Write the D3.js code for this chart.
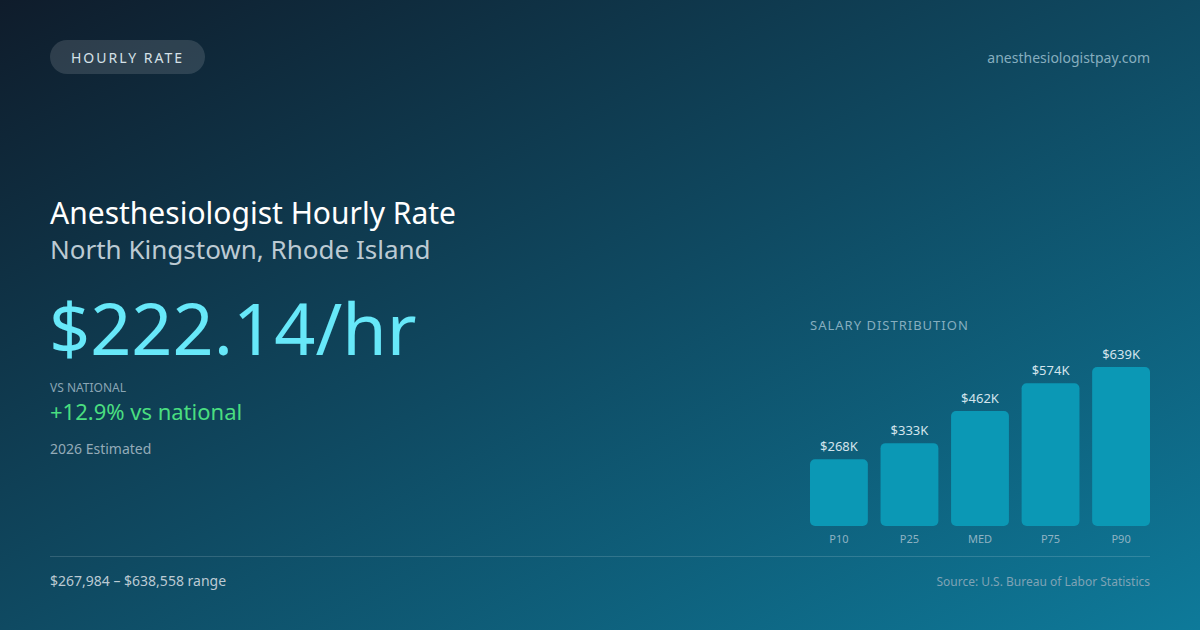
<!DOCTYPE html>
<html>
<head>
<meta charset="utf-8">
<script src="https://cdn.jsdelivr.net/npm/d3@7"></script>
<style>
html,body{margin:0;padding:0;background:#0f1c2b;}
svg{display:block;font-family:"Noto Sans",sans-serif;}
</style>
</head>
<body>
<svg id="chart" width="1200" height="630"></svg>
<script>
const categories = ["P10", "P25", "MED", "P75", "P90"];
const values = [268, 333, 462, 574, 639];
const valueLabels = ["$268K", "$333K", "$462K", "$574K", "$639K"];

const svg = d3.select("#chart");
const W = 1200, H = 630;

const defs = svg.append("defs");
const bg = defs.append("linearGradient").attr("id", "bg")
  .attr("x1", "0").attr("y1", "0").attr("x2", "1").attr("y2", "1");
bg.append("stop").attr("offset", "0").attr("stop-color", "#0f1c2b");
bg.append("stop").attr("offset", "0.5").attr("stop-color", "#0f4a62");
bg.append("stop").attr("offset", "1").attr("stop-color", "#0e7a9a");
svg.append("rect").attr("width", W).attr("height", H).attr("fill", "url(#bg)");

// pill
svg.append("rect").attr("x", 50).attr("y", 40).attr("width", 155).attr("height", 34)
  .attr("rx", 17).attr("fill", "rgba(255,255,255,0.13)");
svg.append("text").attr("x", 127.5).attr("y", 62.5).attr("text-anchor", "middle")
  .attr("font-size", 14).attr("letter-spacing", 2).attr("fill", "#d5e1e8").text("HOURLY RATE");

svg.append("text").attr("x", 1150).attr("y", 63).attr("text-anchor", "end")
  .attr("font-size", 14).attr("fill", "#86aebf").text("anesthesiologistpay.com");

// left texts
svg.append("text").attr("x", 50).attr("y", 224).attr("font-size", 30).attr("fill", "#ffffff")
  .text("Anesthesiologist Hourly Rate");
svg.append("text").attr("x", 50).attr("y", 259).attr("font-size", 26).attr("fill", "#bccad3")
  .text("North Kingstown, Rhode Island");
svg.append("text").attr("x", 49).attr("y", 355).attr("font-size", 72).attr("fill", "#67e8f9")
  .text("$222.14/hr");
svg.append("text").attr("x", 50).attr("y", 392).attr("font-size", 12).attr("fill", "#8aa5b4")
  .text("VS NATIONAL");
svg.append("text").attr("x", 50).attr("y", 420).attr("font-size", 22).attr("fill", "#4ade80")
  .text("+12.9% vs national");
svg.append("text").attr("x", 50).attr("y", 454).attr("font-size", 14).attr("fill", "#94abb8")
  .text("2026 Estimated");

// bar chart
svg.append("text").attr("x", 810).attr("y", 330).attr("font-size", 13).attr("letter-spacing", 1)
  .attr("fill", "#86aebf").text("SALARY DISTRIBUTION");

const x = d3.scaleBand().domain(categories).range([810, 1150]).paddingInner(0.18).paddingOuter(0);
const y = d3.scaleLinear().domain([0, 639]).range([526, 367]);

const g = svg.append("g");
g.selectAll("rect.bar").data(values).join("rect").attr("class", "bar")
  .attr("x", (d, i) => x(categories[i]))
  .attr("y", d => y(d))
  .attr("width", x.bandwidth())
  .attr("height", d => y(0) - y(d))
  .attr("rx", 5)
  .attr("fill", "#0b98b5");
g.selectAll("text.val").data(values).join("text").attr("class", "val")
  .attr("x", (d, i) => x(categories[i]) + x.bandwidth() / 2)
  .attr("y", d => y(d) - 8)
  .attr("text-anchor", "middle").attr("font-size", 13).attr("fill", "#d3e4ec")
  .text((d, i) => valueLabels[i]);
g.selectAll("text.cat").data(categories).join("text").attr("class", "cat")
  .attr("x", d => x(d) + x.bandwidth() / 2)
  .attr("y", 543)
  .attr("text-anchor", "middle").attr("font-size", 11).attr("fill", "#8fb3c3")
  .text(d => d);

// divider & footer
svg.append("line").attr("x1", 50).attr("x2", 1150).attr("y1", 556.5).attr("y2", 556.5)
  .attr("stroke", "rgba(255,255,255,0.15)").attr("stroke-width", 1);
svg.append("text").attr("x", 50).attr("y", 586).attr("font-size", 14).attr("fill", "#bccad3")
  .text("$267,984 – $638,558 range");
svg.append("text").attr("x", 1150).attr("y", 586).attr("text-anchor", "end")
  .attr("font-size", 12).attr("fill", "#7fa3b5").text("Source: U.S. Bureau of Labor Statistics");
</script>
</body>
</html>
